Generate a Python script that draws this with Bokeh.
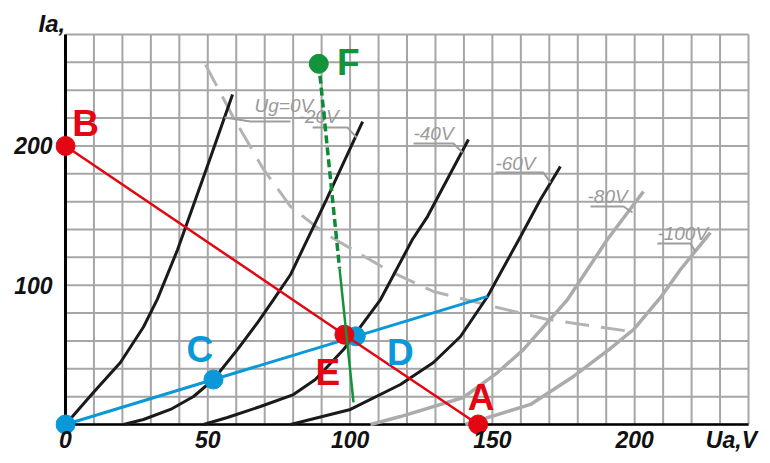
from bokeh.plotting import figure
from bokeh.models import Range1d, FixedTicker
from bokeh.embed import file_html
from bokeh.resources import INLINE
from bokeh.core.properties import value

# ---------------- data ----------------
V_MAX, I_MAX = 240, 280          # grid extent (V, mA)
V_STEP, I_STEP = 10, 20          # grid spacing
x_ticks = [0, 50, 100, 150, 200]
y_ticks = [100, 200]
x_unit_pos = 234
x_unit_label = "Ua,V"
y_unit_label = "Ia,"

curve_names = ["Ug=0V", "-20V", "-40V", "-60V", "-80V", "-100V"]
ug0_v = [0, 9.8, 19.3, 27.4, 32.3, 39.4, 51.0, 58.7]
ug0_i = [0, 23, 44.5, 70, 90, 125.6, 192, 237]
ug20_v = [20.4, 27.4, 36.9, 45.0, 52.0, 60.4, 67.5, 73.1, 79.1, 91.7, 104.4]
ug20_i = [0, 3.6, 10.8, 20.1, 32.3, 53.8, 73.2, 89.7, 107.7, 161.5, 217.5]
ug40_v = [48.5, 56.9, 68.5, 80.1, 87.8, 97.7, 110.7, 121.9, 127.2, 141.6]
ug40_i = [0, 5.0, 12.9, 21.5, 32.3, 53.8, 89.7, 132.8, 149.3, 204.6]
ug60_v = [79.1, 100.1, 117.7, 129.3, 138.8, 148.3, 159.9, 166.9, 173.9]
ug60_i = [0, 10.8, 28.7, 44.5, 63.2, 91.9, 135.0, 161.5, 185.2]
ug80_v = [107.2, 117.7, 139.8, 151.8, 160.9, 176.4, 190.4, 203.1]
ug80_i = [0, 5.7, 19.4, 37.3, 53.8, 89.7, 132.8, 167.3]
ug100_v = [140.5, 163.4, 178.5, 191.5, 199.6, 209.1, 216.1, 226.6]
ug100_i = [0, 14.4, 34.5, 54.6, 68.2, 91.2, 111.3, 137.8]

# max. anode dissipation hyperbola (dashed)
pmax_v = [49.2, 59.0, 69.6, 79.1, 90.7, 102.6, 114.2, 129.3, 151.8, 169.4, 198.5]
pmax_i = [258.4, 220.4, 183.1, 156.5, 137.8, 123.5, 109.8, 95.5, 84.0, 75.4, 66.8]

# marked points
pt_names = ["A", "B", "C", "D", "E", "F"]
pt_v = [145.0, 0.0, 52.0, 102.0, 98.0, 89.0]
pt_i = [0.0, 200.0, 32.3, 63.3, 64.5, 259.0]

blue_v = [0.0, 52.0, 102.0, 148.3]
blue_i = [0.0, 32.3, 63.3, 92.0]
red_v = [0.0, 98.0, 145.0]
red_i = [200.0, 64.5, 0.0]
green_dash_v = [89.0, 96.3]
green_dash_i = [259.0, 112.0]
green_solid_v = [96.3, 101.2]
green_solid_i = [112.0, 15.8]

# ---------------- layout / style ----------------
X0, X1 = -3.51, 241.4
Y0, Y1 = -7.18, 283.6
FW, FH = 697, 405
kx = FW / (X1 - X0)
ky = FH / (Y1 - Y0)


def shift(x, y, dx, dy):
    """move a data point by screen pixels (dx right, dy down)"""
    return x + dx / kx, y - dy / ky


RED, BLUE, GREEN = "#e30613", "#0a98d8", "#12933c"
GRID = "#a6a6a6"
GRAY_CURVE = "#ababab"
FONT = "Liberation Sans"

p = figure(frame_width=FW, frame_height=FH,
           x_range=Range1d(X0, X1), y_range=Range1d(Y0, Y1),
           output_backend="svg", toolbar_location=None,
           min_border_left=55, min_border_right=8,
           min_border_top=29, min_border_bottom=20,
           title=y_unit_label)
p.outline_line_color = None
p.grid.visible = False
p.background_fill_color = "white"

p.title.align = "left"
p.title.offset = -17
p.title.standoff = -14
p.title.text_font = FONT
p.title.text_font_style = "bold italic"
p.title.text_font_size = "24px"
p.title.text_color = "#111111"

for ax in (p.xaxis[0], p.yaxis[0]):
    ax.axis_line_color = None
    ax.major_tick_line_color = None
    ax.minor_tick_line_color = None
    ax.major_label_text_font = FONT
    ax.major_label_text_font_style = "bold italic"
    ax.major_label_text_font_size = "23px"
    ax.major_label_text_color = "#111111"
    ax.major_tick_out = 0
    ax.major_tick_in = 0

p.xaxis.ticker = FixedTicker(ticks=x_ticks + [x_unit_pos])
p.xaxis.major_label_overrides = {x_unit_pos: x_unit_label}
p.xaxis.major_label_standoff = -8
p.yaxis.ticker = FixedTicker(ticks=y_ticks)
p.yaxis.major_label_standoff = 3

# grid
gx = list(range(0, V_MAX + 1, V_STEP))
gy = list(range(0, I_MAX + 1, I_STEP))
p.segment(x0=gx, y0=[0] * len(gx), x1=gx, y1=[I_MAX] * len(gx),
          line_color=GRID, line_width=2)
p.segment(x0=[0] * len(gy), y0=gy, x1=[V_MAX] * len(gy), y1=gy,
          line_color=GRID, line_width=2)
# axis lines
p.line([0, 0], [0, I_MAX], line_color="black", line_width=3)
p.line([0, V_MAX], [0, 0], line_color="black", line_width=2.5)

# dissipation hyperbola
p.line(pmax_v, pmax_i, line_color="#b3b3b3", line_width=3, line_dash="24 12")

# characteristic curves
curves = [(ug0_v, ug0_i), (ug20_v, ug20_i), (ug40_v, ug40_i),
          (ug60_v, ug60_i), (ug80_v, ug80_i), (ug100_v, ug100_i)]
for k, (v, i) in enumerate(curves):
    if k < 4:
        p.line(v, i, line_color="#1a1a1a", line_width=3)
    else:
        p.line(v, i, line_color=GRAY_CURVE, line_width=3.5)

# curve labels with leader lines (pixel offsets from curve top end)
text_off = [(22, 11), (-64, -5), (-55, -6), (-65, -3), (-56, 5), (-53, 1)]
lead_off = [[(-8, 23), (18, 27), (58, 27)],
            [(-50, 6), (-15, 6), (-6, 16)],
            [(-55, 4), (-15, 4), (-6, 13)],
            [(-65, 6), (-17, 6), (-10, 16)],
            [(-53, 15), (-20, 15), (-11, 21)],
            [(-53, 11), (-20, 11), (-15, 19)]]
lx, ly, lxs, lys = [], [], [], []
for k, (v, i) in enumerate(curves):
    ex, ey = v[-1], i[-1]
    tx, ty = shift(ex, ey, *text_off[k])
    lx.append(tx)
    ly.append(ty)
    pts = [shift(ex, ey, dx, dy) for dx, dy in lead_off[k]]
    lxs.append([q[0] for q in pts])
    lys.append([q[1] for q in pts])
p.multi_line(lxs, lys, line_color="#9e9e9e", line_width=2)
p.text(x=lx, y=ly, text=curve_names, text_font=value(FONT),
       text_font_style="italic", text_font_size="19px",
       text_color="#9a9a9a", text_align="left", text_baseline="alphabetic")

# annotation lines and points
p.line(blue_v, blue_i, line_color=BLUE, line_width=3)
p.scatter([pt_v[2], pt_v[3], blue_v[0]], [pt_i[2], pt_i[3], blue_i[0]],
          size=19, color=BLUE)
p.line(red_v, red_i, line_color=RED, line_width=2.5)
p.scatter([pt_v[0], pt_v[1], pt_v[4]], [pt_i[0], pt_i[1], pt_i[4]],
          size=19, color=RED)
p.line(green_dash_v, green_dash_i, line_color="#0e8a36", line_width=3.5,
       line_dash="8 4")
p.line(green_solid_v, green_solid_i, line_color=GREEN, line_width=2.5)
p.scatter([pt_v[5]], [pt_i[5]], size=19, color=GREEN)

# point letters (offsets in pixels: centre x, baseline y)
letter_off = [(3, -27), (20, -22), (-13.5, -30), (44.5, 16), (-16.5, 38), (29.5, -1)]
letter_col = [RED, RED, BLUE, BLUE, RED, GREEN]
tx, ty = [], []
for k in range(len(pt_names)):
    a, b = shift(pt_v[k], pt_i[k], *letter_off[k])
    tx.append(a)
    ty.append(b)
p.text(x=tx, y=ty, text=pt_names, text_color=letter_col,
       text_font=value(FONT), text_font_style="bold", text_font_size="37px",
       text_align="center", text_baseline="alphabetic")

open("out.html", "w").write(file_html(p, INLINE))
